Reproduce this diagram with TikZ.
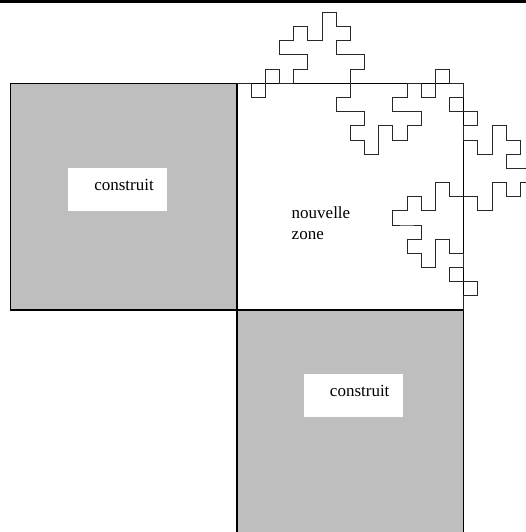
\documentclass[tikz,border=0pt]{standalone}
\usepackage{fontspec}
\setmainfont{Liberation Serif}
\definecolor{hatchgray}{RGB}{190,190,190}
\definecolor{curvegray}{RGB}{40,40,40}
\begin{document}
\begin{tikzpicture}[x=1bp,y=-1bp,
  builtsq/.style={fill=hatchgray,draw=black,line width=1.3bp},
  newsq/.style={fill=white,draw=black,line width=1.3bp},
  fractal/.style={draw=curvegray,line width=0.95bp,line join=miter},
  labelbox/.style={fill=white,draw=none,minimum width=98.7bp,minimum height=42.5bp,inner sep=0pt},
  labeltext/.style={inner sep=0pt,font=\fontsize{17bp}{20.7bp}\selectfont}]
\useasboundingbox (0,0) rectangle (526,532);
\clip (0,0) rectangle (526,532);
% top bar
\fill[black] (0,0) rectangle (526,2.6);
% squares
\draw[builtsq] (10.5,83.3) rectangle (237,310);
\draw[builtsq] (237,310) rectangle (463.7,545);
\draw[newsq] (237,83.3) rectangle (463.7,310);
% fractal curve
\begin{scope}[shift={(237,83.3)},x=14.17bp,y=14.17bp]
\draw[fractal]
(0,0) -- (1,0) -- (1,-1) -- (2,-1) -- (2,0) -- (2,1) -- (3,1) -- (3,0) -- (4,0)
-- (4,1) -- (5,1) -- (5,2) -- (4,2) -- (3,2) -- (3,3) -- (4,3) -- (4,4)
-- (5,4) -- (5,3) -- (6,3) -- (6,4) -- (6,5) -- (7,5) -- (7,4) -- (8,4)
-- (8,3) -- (7,3) -- (7,2) -- (8,2) -- (9,2) -- (9,1) -- (8,1) -- (8,0)
-- (8,-1) -- (7,-1) -- (7,-2) -- (8,-2) -- (9,-2) -- (9,-3) -- (8,-3) -- (8,-4)
-- (9,-4) -- (9,-5) -- (10,-5) -- (10,-4) -- (10,-3) -- (11,-3) -- (11,-4) -- (12,-4)
-- (12,-3) -- (13,-3) -- (13,-2) -- (12,-2) -- (11,-2) -- (11,-1) -- (12,-1) -- (12,0)
-- (13,0) -- (13,-1) -- (14,-1) -- (14,0) -- (14,1) -- (15,1) -- (15,0) -- (16,0)
-- (16,-1) -- (15,-1) -- (15,-2) -- (16,-2) -- (17,-2) -- (17,-3) -- (16,-3) -- (16,-4)
-- (17,-4) -- (17,-5) -- (18,-5) -- (18,-4) -- (18,-3) -- (19,-3) -- (19,-4) -- (20,-4)
-- (20,-5) -- (19,-5) -- (19,-6) -- (20,-6) -- (21,-6) -- (21,-7) -- (20,-7) -- (20,-8)
-- (19,-8) -- (19,-7) -- (18,-7) -- (18,-8) -- (18,-9) -- (17,-9) -- (17,-8) -- (16,-8)
-- (15,-8) -- (15,-7) -- (14,-7) -- (14,-8) -- (14,-9) -- (13,-9) -- (13,-8) -- (12,-8)
-- (12,-9) -- (11,-9) -- (11,-10) -- (12,-10) -- (13,-10) -- (13,-11) -- (12,-11) -- (12,-12)
-- (13,-12) -- (13,-13) -- (14,-13) -- (14,-12) -- (14,-11) -- (15,-11) -- (15,-12) -- (16,-12)
-- (16,-13) -- (15,-13) -- (15,-14) -- (16,-14) -- (17,-14) -- (17,-15) -- (16,-15) -- (16,-16);
\end{scope}
% labels
\node[labelbox] (boxA) at (117.5,189.5) {};
\node[labeltext,anchor=base] (textA) at (124,191) {construit};
\node[labelbox] (boxB) at (353.3,395.3) {};
\node[labeltext,anchor=base] (textB) at (359.7,396.5) {construit};
\node[labeltext,anchor=base west,align=left] (zoneT) at (291.5,239) {nouvelle\\zone};
\end{tikzpicture}
\end{document}
